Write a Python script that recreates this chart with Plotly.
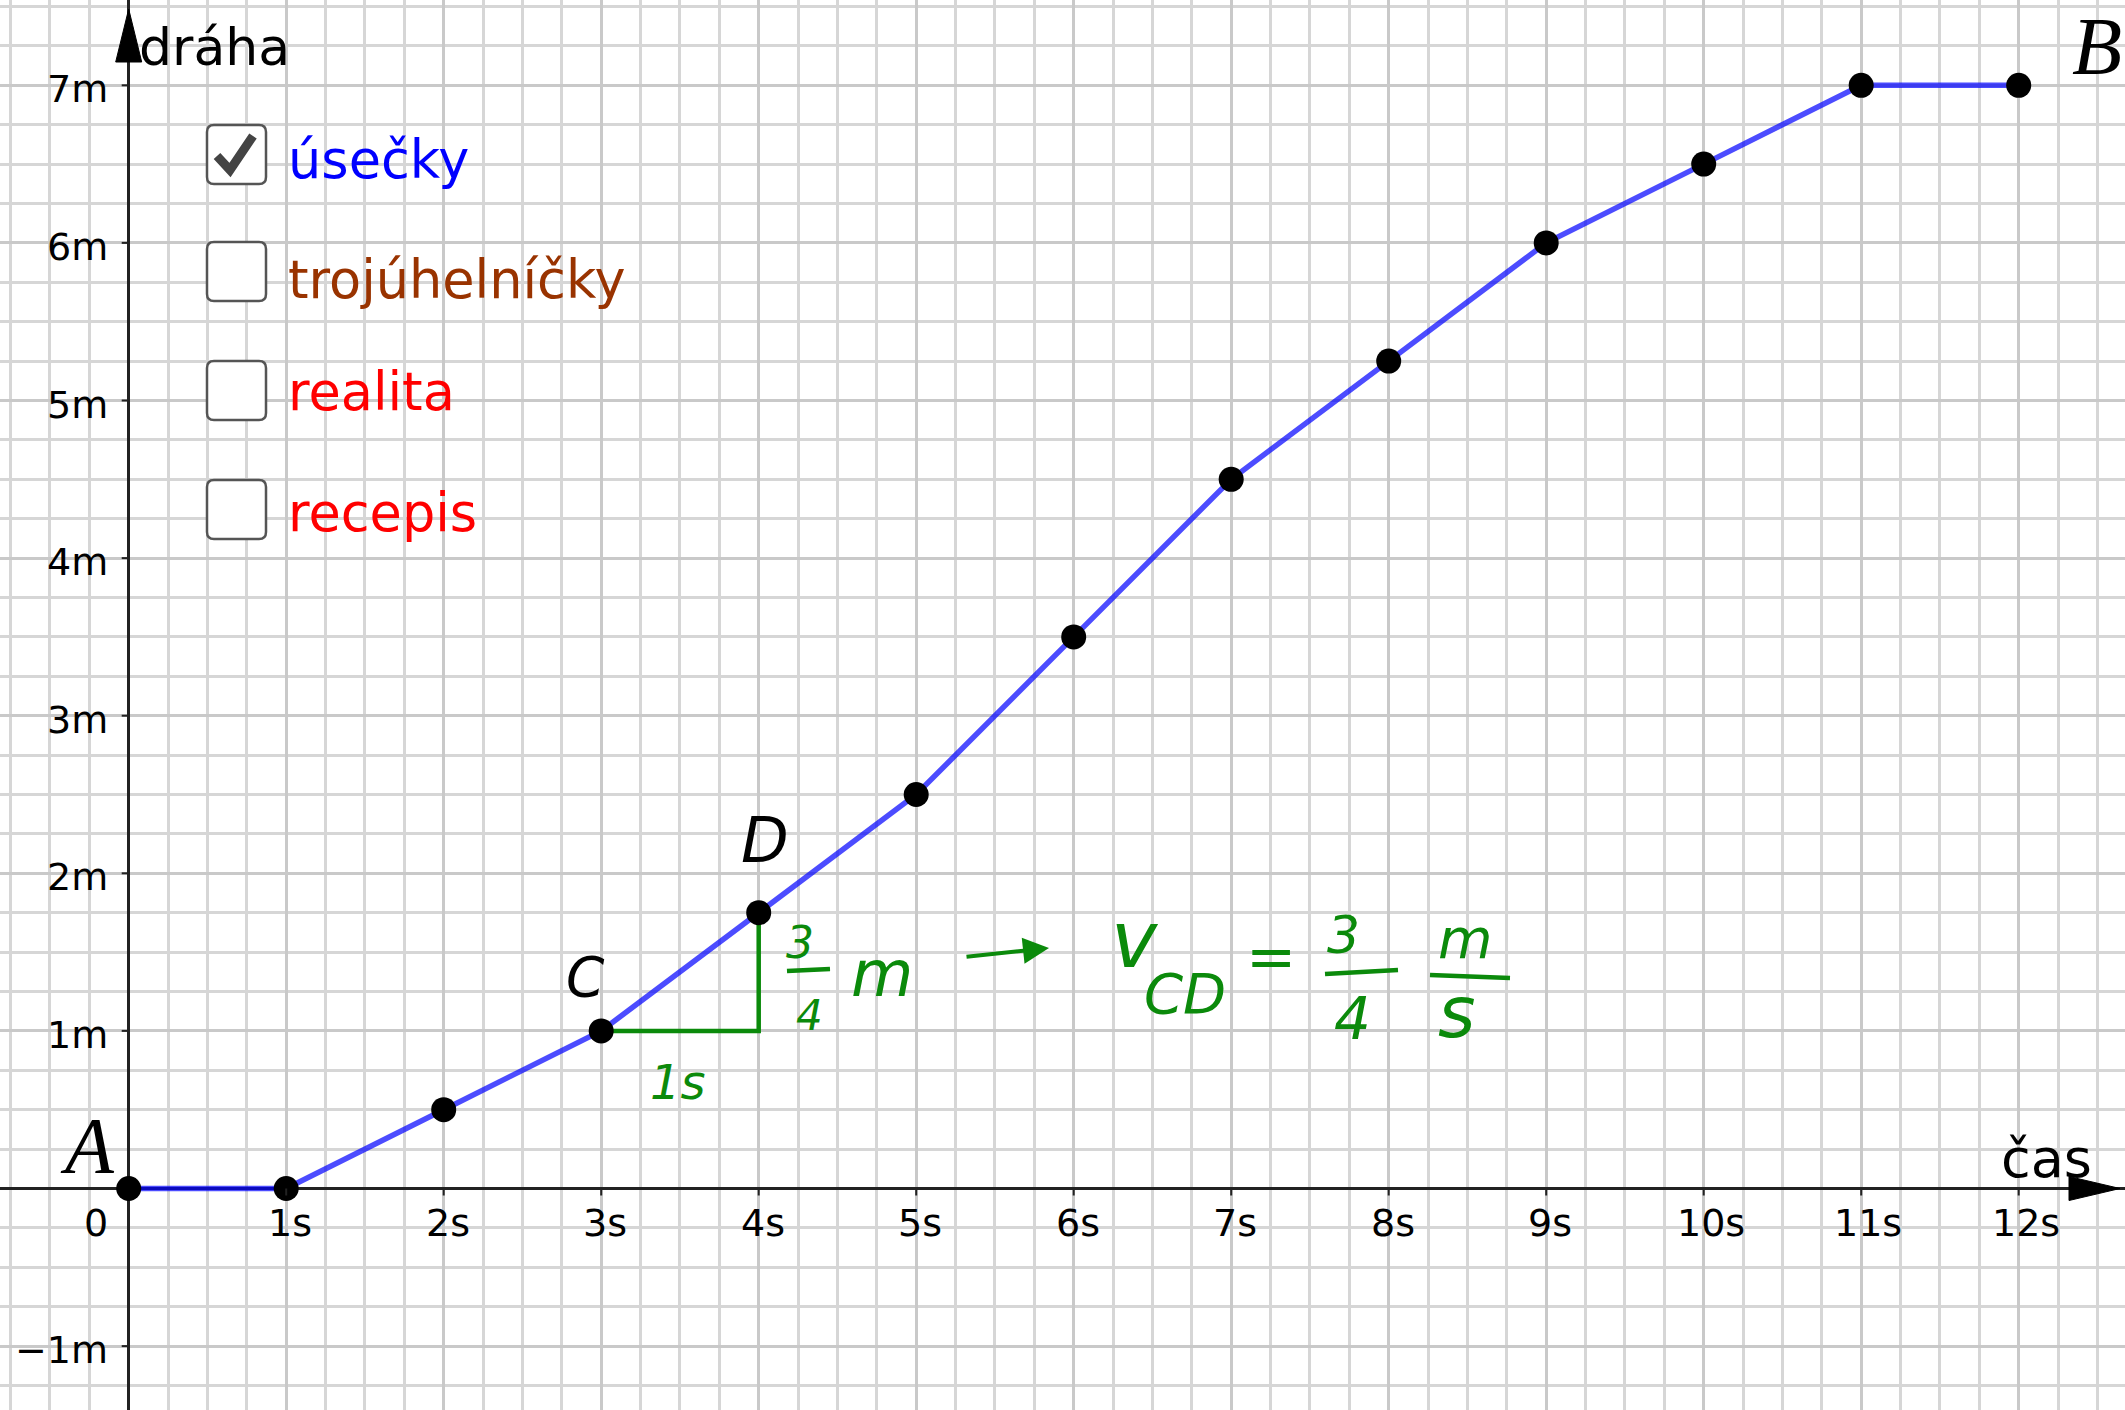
import plotly.graph_objects as go

# ---------------- data ----------------
time_s = [0, 1, 2, 3, 4, 5, 6, 7, 8, 9, 10, 11, 12]
distance_m = [0, 0, 0.5, 1, 1.75, 2.5, 3.5, 4.5, 5.25, 6, 6.5, 7, 7]

x_tick_values = [1, 2, 3, 4, 5, 6, 7, 8, 9, 10, 11, 12]
x_tick_labels = ["1s", "2s", "3s", "4s", "5s", "6s", "7s", "8s", "9s", "10s", "11s", "12s"]
y_tick_values = [-1, 1, 2, 3, 4, 5, 6, 7]
y_tick_labels = ["\u22121m", "1m", "2m", "3m", "4m", "5m", "6m", "7m"]

checkbox_labels = ["úsečky", "trojúhelníčky", "realita", "recepis"]
checkbox_colors = ["#0000ff", "#993300", "#ff0000", "#ff0000"]
checkbox_checked = [True, False, False, False]

idx_C, idx_D = 3, 4  # points C and D on the graph

# ---------------- geometry ----------------
W, H = 2125, 1410
OX, OY = 128.7, 1188.5        # pixel position of origin
UX, UY = 157.5, 157.6         # pixels per unit
x_range = [(0 - OX) / UX, (W - OX) / UX]
y_range = [(OY - H) / UY, (OY - 0) / UY]


def px(x):
    return x / W


def py(y):
    return 1 - y / H


FONT = "DejaVu Sans"
GREEN = "#0b8a0b"

fig = go.Figure()

# green slope triangle C -> (xD, yC) -> D
fig.add_trace(go.Scatter(
    x=[time_s[idx_C], time_s[idx_D], time_s[idx_D]],
    y=[distance_m[idx_C], distance_m[idx_C], distance_m[idx_D]],
    mode="lines", line=dict(color=GREEN, width=4.5),
    hoverinfo="skip", showlegend=False))

# main polyline with points
fig.add_trace(go.Scatter(
    x=time_s, y=distance_m, mode="lines+markers",
    line=dict(color="rgba(0,0,255,0.7)", width=5.5),
    marker=dict(color="black", size=25),
    showlegend=False))

shapes = []
annotations = []

# mask the strip right of the drawing pad
shapes.append(dict(type="rect", xref="paper", yref="paper",
                   x0=px(2116), x1=1, y0=0, y1=1,
                   fillcolor="white", line=dict(width=0), layer="between"))

# tick marks
for xv in x_tick_values:
    shapes.append(dict(type="line", xref="x", yref="y", ysizemode="pixel", yanchor=0,
                       x0=xv, x1=xv, y0=0, y1=-7,
                       line=dict(color="#222222", width=2)))
for yv in y_tick_values:
    shapes.append(dict(type="line", xref="x", yref="y", xsizemode="pixel", xanchor=0,
                       x0=-7, x1=0, y0=yv, y1=yv,
                       line=dict(color="#222222", width=2)))

# axis arrowheads
def tri(p1, p2, p3):
    return "M {} {} L {} {} L {} {} Z".format(px(p1[0]), py(p1[1]), px(p2[0]), py(p2[1]),
                                             px(p3[0]), py(p3[1]))

shapes.append(dict(type="path", xref="paper", yref="paper",
                   path=tri((OX, 9), (OX - 13, 62), (OX + 13, 62)),
                   fillcolor="black", line=dict(color="black", width=1), layer="above"))
shapes.append(dict(type="path", xref="paper", yref="paper",
                   path=tri((2120, OY), (2069, OY - 12), (2069, OY + 12)),
                   fillcolor="black", line=dict(color="black", width=1), layer="above"))

# tick labels
for xv, lab in zip(x_tick_values, x_tick_labels):
    annotations.append(dict(x=xv, y=0, xref="x", yref="y", text=lab, showarrow=False,
                            xanchor="center", yanchor="middle",
                            xshift=4 if len(lab) == 2 else 7, yshift=-34.5,
                            font=dict(family=FONT, size=38, color="black")))
annotations.append(dict(x=0, y=0, xref="x", yref="y", text="0", showarrow=False,
                        xanchor="center", yanchor="middle", xshift=-33, yshift=-34.5,
                        font=dict(family=FONT, size=38, color="black")))
for yv, lab in zip(y_tick_values, y_tick_labels):
    annotations.append(dict(x=0, y=yv, xref="x", yref="y", text=lab, showarrow=False,
                            xanchor="right", yanchor="middle", xshift=-19, yshift=-4,
                            font=dict(family=FONT, size=38, color="black")))

# axis names
annotations.append(dict(x=px(137), y=py(47), xref="paper", yref="paper", text="dráha",
                        showarrow=False, xanchor="left", yanchor="middle",
                        font=dict(family=FONT, size=52, color="black")))
annotations.append(dict(x=px(1999), y=py(1158), xref="paper", yref="paper", text="čas",
                        showarrow=False, xanchor="left", yanchor="middle",
                        font=dict(family=FONT, size=54, color="black")))

# checkboxes
box_tops = [125, 242, 361, 480]
text_centers = [160, 279, 392, 512.5]
for top, lab, col, chk, tc in zip(box_tops, checkbox_labels, checkbox_colors,
                                  checkbox_checked, text_centers):
    l, r, t, b, rr = 207, 266, top, top + 59, 7
    path = ("M {} {} L {} {} Q {} {} {} {} L {} {} Q {} {} {} {} L {} {} Q {} {} {} {} "
            "L {} {} Q {} {} {} {} Z").format(
        px(l + rr), py(t), px(r - rr), py(t), px(r), py(t), px(r), py(t + rr),
        px(r), py(b - rr), px(r), py(b), px(r - rr), py(b),
        px(l + rr), py(b), px(l), py(b), px(l), py(b - rr),
        px(l), py(t + rr), px(l), py(t), px(l + rr), py(t))
    shapes.append(dict(type="path", xref="paper", yref="paper", path=path,
                       fillcolor="white", line=dict(color="#555555", width=2.5),
                       layer="above"))
    if chk:
        shapes.append(dict(type="path", xref="paper", yref="paper",
                           path="M {} {} L {} {} L {} {}".format(
                               px(217), py(top + 31), px(230), py(top + 45),
                               px(253), py(top + 11)),
                           line=dict(color="#444444", width=9), layer="above"))
    annotations.append(dict(x=px(286), y=py(tc), xref="paper", yref="paper", text=lab,
                            showarrow=False, xanchor="left", yanchor="middle",
                            font=dict(family=FONT, size=52.5, color=col)))

# handwritten notes
def note(x, y, text, size, color, family=FONT, italic=True):
    annotations.append(dict(x=px(x), y=py(y), xref="paper", yref="paper", text=text,
                            showarrow=False, xanchor="center", yanchor="middle",
                            font=dict(family=family, size=size, color=color,
                                      style="italic" if italic else "normal")))

note(87, 1146, "A", 80, "black", "Liberation Serif")
note(2097, 46, "B", 82, "black", "Liberation Serif")
note(585, 977, "C", 55, "black")
note(765, 840, "D", 62, "black")

note(678, 1082, "1s", 48, GREEN)
note(800, 942, "3", 44, GREEN)
note(809, 1015, "4", 42, GREEN)
note(882, 974, "m", 64, GREEN)
note(1135, 940, "v", 78, GREEN)
note(1185, 993, "CD", 56, GREEN)
note(1271, 956, "=", 60, GREEN)
note(1343, 935, "3", 52, GREEN)
note(1352, 1019, "4", 58, GREEN)
note(1465, 938, "m", 56, GREEN)
note(1457, 1012, "s", 72, GREEN)

for x0, x1, y0, y1 in [(787, 830, 971, 969), (1325, 1398, 974, 970), (1430, 1510, 975, 978)]:
    shapes.append(dict(type="line", xref="paper", yref="paper",
                       x0=px(x0), x1=px(x1), y0=py(y0), y1=py(y1),
                       line=dict(color=GREEN, width=4.5), layer="above"))

annotations.append(dict(x=px(1049), y=py(948), xref="paper", yref="paper",
                        ax=-84, ay=9, text="", showarrow=True,
                        arrowhead=2, arrowsize=1.3, arrowwidth=4, arrowcolor=GREEN))

fig.update_layout(
    width=W, height=H,
    margin=dict(l=0, r=0, t=0, b=0, pad=0),
    paper_bgcolor="white", plot_bgcolor="white",
    xaxis=dict(range=x_range, tick0=0, dtick=1, showgrid=True, gridcolor="#c9c9c9",
               gridwidth=2.5, showticklabels=False, ticks="",
               minor=dict(dtick=0.25, tick0=0, showgrid=True, gridcolor="#d6d6d6", gridwidth=2.5),
               zeroline=True, zerolinecolor="#222222", zerolinewidth=2.5,
               showline=False, fixedrange=True),
    yaxis=dict(range=y_range, tick0=0, dtick=1, showgrid=True, gridcolor="#c9c9c9",
               gridwidth=2.5, showticklabels=False, ticks="",
               minor=dict(dtick=0.25, tick0=0, showgrid=True, gridcolor="#d6d6d6", gridwidth=2.5),
               zeroline=True, zerolinecolor="#222222", zerolinewidth=2.5,
               showline=False, fixedrange=True),
    shapes=shapes, annotations=annotations,
    showlegend=False,
)

fig.write_html("out.html", config={"displayModeBar": False},
               post_script="document.body.style.margin='0';document.body.style.overflow='hidden';")
